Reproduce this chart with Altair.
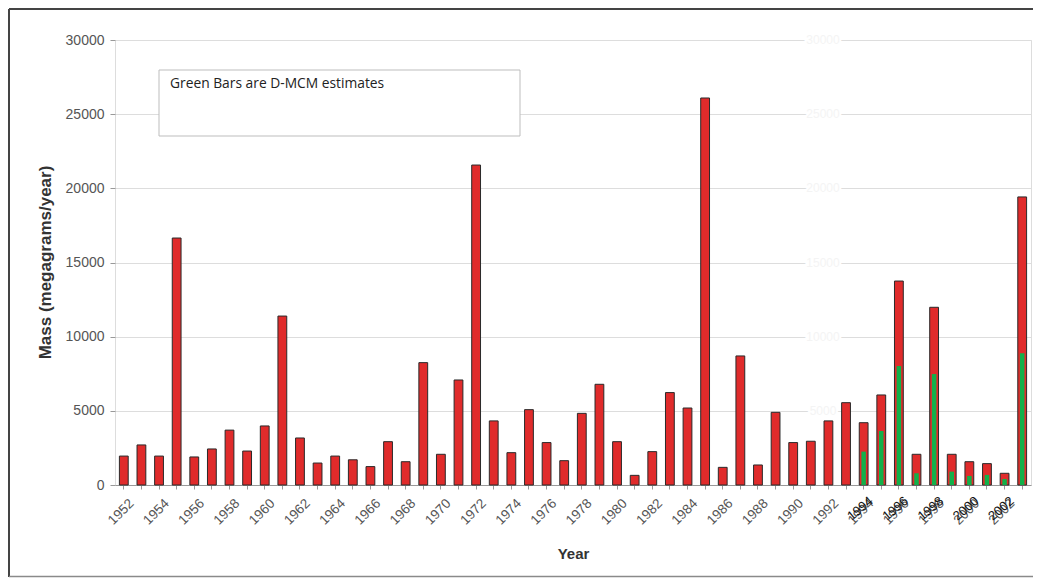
import altair as alt
import pandas as pd

years = [str(y) for y in range(1952, 2004)]
totals = [1950, 2700, 1950, 16650, 1890, 2430, 3700, 2290, 3980, 11390,
          3170, 1480, 1950, 1700, 1240, 2920, 1570, 8250, 2070, 7080,
          21570, 4320, 2180, 5080, 2860, 1640, 4830, 6790, 2920, 650,
          2250, 6230, 5190, 26090, 1190, 8700, 1350, 4900, 2860, 2950,
          4320, 5550, 4200, 6070, 13750, 2070, 11980, 2070, 1570, 1440,
          790, 19420]
green_years = [str(y) for y in range(1994, 2004)]
green_vals = [2250, 3640, 8020, 790, 7480, 900, 610, 680, 400, 8880]
glitch_labels = ["1994", "1996", "1998", "2000", "2002"]
y_ticks = [0, 5000, 10000, 15000, 20000, 25000, 30000]
note_text = "Green Bars are D-MCM estimates"

df = pd.DataFrame({"Year": years, "Mass": totals})
dg = pd.DataFrame({"Year": green_years, "Green": green_vals})
dl = pd.DataFrame({"Year": glitch_labels})
dt = pd.DataFrame({"v": y_ticks[1:], "t": [str(v) for v in y_ticks[1:]]})
one = alt.Data(values=[{}])

W, H = 916, 445

xenc = alt.X("Year:N", sort=years, title="Year",
             scale=alt.Scale(domain=years, paddingInner=0.5, paddingOuter=0.25),
             axis=alt.Axis(labelAngle=-45, labelAlign="right", labelBaseline="top",
                           labelPadding=7, labelOffset=3,
                           labelFont="Liberation Sans", labelFontSize=13.5,
                           labelColor="#555555", labelOverlap=False,
                           labelExpr="parseInt(datum.value) % 2 == 0 ? datum.value : ''",
                           tickSize=4, tickColor="#999999", domainColor="#999999",
                           titleFont="Liberation Sans", titleFontSize=15,
                           titleFontWeight="bold", titleColor="#333333",
                           titleX=458, titleY=61, titleBaseline="top", grid=False))

red = alt.Chart(df).mark_bar(color="#E02B2B", stroke="#2a2a2a", strokeWidth=1).encode(
    x=xenc,
    y=alt.Y("Mass:Q", title="Mass (megagrams/year)",
            scale=alt.Scale(domain=[0, 30000], nice=False),
            axis=alt.Axis(values=y_ticks, format="d", labelFont="Liberation Sans",
                          labelFontSize=14, labelColor="#555555", labelPadding=6,
                          tickSize=5, tickColor="#999999", domain=False,
                          gridColor="#dddddd", gridWidth=1.2,
                          titleFont="Liberation Sans", titleFontSize=17,
                          titleFontWeight="bold", titleColor="#333333",
                          titleX=-70, titleY=222, titleAngle=-90,
                          titleAlign="center", titleBaseline="middle")),
)

green = alt.Chart(dg).mark_bar(color="#12B04A", size=4.5).encode(
    x=alt.X("Year:N", sort=years),
    y=alt.Y("Green:Q"),
)

glitch = alt.Chart(dl).mark_text(align="right", baseline="top",
                                 font="Liberation Sans", fontSize=13, color="#111111",
                                 dx=5).encode(
    x=alt.X("Year:N", sort=years),
    y=alt.value(H + 13),
    angle=alt.value(320),
    text="Year:N",
)

ghost_bg = alt.Chart(dt).mark_text(align="center", baseline="middle",
                                   font="Liberation Sans", fontSize=12,
                                   color="#ffffff", stroke="#ffffff", strokeWidth=4).encode(
    x=alt.value(708), y=alt.Y("v:Q"), text="t:N")
ghost = alt.Chart(dt).mark_text(align="center", baseline="middle",
                                font="Liberation Sans", fontSize=12,
                                color="#f4f4f4").encode(
    x=alt.value(708), y=alt.Y("v:Q"), text="t:N")

note_box = alt.Chart(one).mark_rect(fill="#ffffff", stroke="#bdbdbd", strokeWidth=1).encode(
    x=alt.value(44), x2=alt.value(405), y=alt.value(30), y2=alt.value(96))
note = alt.Chart(one).mark_text(align="left", baseline="top", font="Open Sans",
                                fontSize=13.8, color="#222222").encode(
    x=alt.value(55), y=alt.value(37), text=alt.value(note_text))

frame_top = alt.Chart(one).mark_rule(color="#444444", strokeWidth=2).encode(
    x=alt.value(-106), x2=alt.value(W + 4), y=alt.value(-31))
frame_left = alt.Chart(one).mark_rule(color="#444444", strokeWidth=2).encode(
    x=alt.value(-106), y=alt.value(-31), y2=alt.value(537))
frame_bottom = alt.Chart(one).mark_rule(color="#8a8a8a", strokeWidth=1.5).encode(
    x=alt.value(-106), x2=alt.value(W + 4), y=alt.value(536.5))

chart = alt.layer(
    ghost_bg, ghost, red, green, glitch, note_box, note,
    frame_top, frame_left, frame_bottom
).properties(
    width=W, height=H,
    padding={"left": 107, "top": 32, "right": 2, "bottom": 93},
    autosize=alt.AutoSizeParams(type="none"),
).configure_view(stroke="#bbbbbb", strokeWidth=1.5).configure(background="#ffffff")

chart.save("out.html", embed_options={"renderer": "svg", "actions": False})
